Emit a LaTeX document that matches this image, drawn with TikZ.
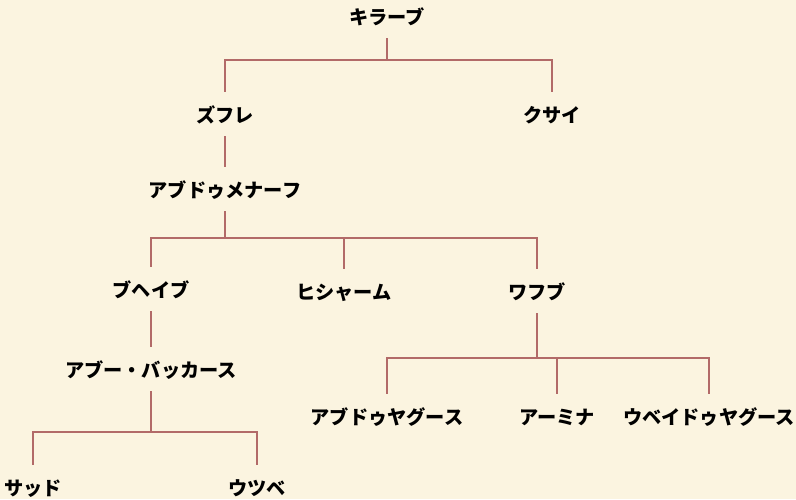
\documentclass[tikz,border=0pt]{standalone}
\usepackage{fontspec}
\setmainfont{Noto Sans CJK JP}
\definecolor{bg}{HTML}{FBF4E0}
\definecolor{linec}{HTML}{B26A68}
\begin{document}
\begin{tikzpicture}[x=1pt,y=-1pt,
  person/.style={inner sep=0pt, text height=30pt, text depth=14pt, anchor=base, font=\fontsize{19.2}{19.2}\selectfont\bfseries},
  conn/.style={draw=linec, line width=2pt}]
\fill[bg] (0,0) rectangle (796,499);
\useasboundingbox (0,0) rectangle (796,499);
\node[person] (kirabu) at (387,24) {キラーブ};
\node[person] (zufure) at (225,122) {ズフレ};
\node[person] (kusai) at (552,122) {クサイ};
\node[person] (abdmanaf) at (225,197) {アブドゥメナーフ};
\node[person] (buhaib) at (151,297) {ブヘイブ};
\node[person] (hisham) at (344,299) {ヒシャーム};
\node[person] (wahb) at (537,299) {ワフブ};
\node[person] (abubakr) at (151,377) {アブー・バッカース};
\node[person] (saad) at (33,495) {サッド};
\node[person] (utsube) at (257,495) {ウツベ};
\node[person] (abdyagus) at (387,424) {アブドゥヤグース};
\node[person] (amina) at (557,424) {アーミナ};
\node[person] (ubaid) at (709,424) {ウベイドゥヤグース};
\coordinate (b1) at (0,60);
\coordinate (b2) at (0,238);
\coordinate (b3) at (0,358);
\coordinate (b4) at (0,432);
\draw[conn] (kirabu.south) -- (kirabu.south |- b1) -| (zufure.north);
\draw[conn] (kirabu.south |- b1) -| (kusai.north);
\draw[conn] (zufure.south) -- (abdmanaf.north);
\draw[conn] (abdmanaf.south) -- (abdmanaf.south |- b2) -| (buhaib.north);
\draw[conn] (abdmanaf.south |- b2) -| (hisham.north);
\draw[conn] (abdmanaf.south |- b2) -| (wahb.north);
\draw[conn] (buhaib.south) -- (abubakr.north);
\draw[conn] (abubakr.south) -- (abubakr.south |- b4) -| (saad.north);
\draw[conn] (abubakr.south |- b4) -| (utsube.north);
\draw[conn] (wahb.south) -- (wahb.south |- b3) -| (abdyagus.north);
\draw[conn] (wahb.south |- b3) -| (amina.north);
\draw[conn] (wahb.south |- b3) -| (ubaid.north);
\end{tikzpicture}
\end{document}
